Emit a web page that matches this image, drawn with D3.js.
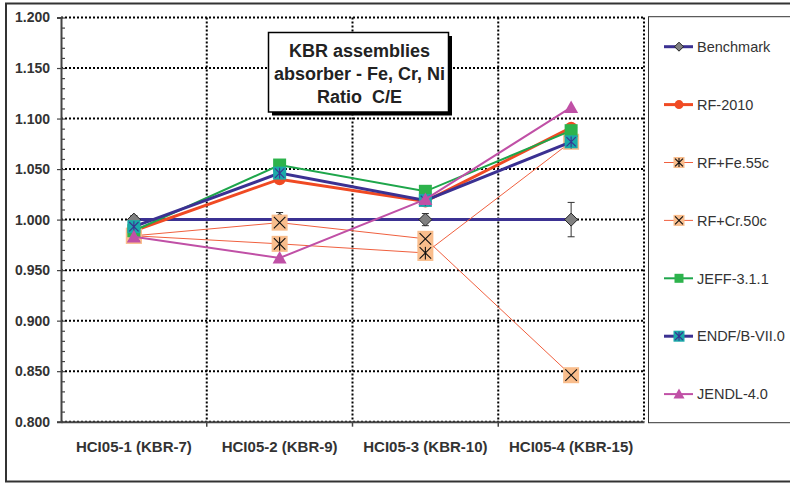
<!DOCTYPE html>
<html>
<head>
<meta charset="utf-8">
<script src="https://cdn.jsdelivr.net/npm/d3@7/dist/d3.min.js"></script>
<style>
  html, body { margin: 0; padding: 0; background: #fff; }
  svg { display: block; font-family: "Liberation Sans", Arial, sans-serif; }
  .title-line { white-space: pre; }
</style>
</head>
<body>
<svg id="chart" width="790" height="484"></svg>
<script>
// Cases and C/E ratios per library
const categories = ["HCI05-1 (KBR-7)", "HCI05-2 (KBR-9)", "HCI05-3 (KBR-10)", "HCI05-4 (KBR-15)"];
const benchmark    = [1.000, 1.000, 1.000, 1.000];
const benchmarkErr = [0.004, 0.007, 0.006, 0.017];
const rf2010   = [0.989, 1.040, 1.018, 1.091];
const rfFe55c  = [0.984, 0.976, 0.967, 1.077];
const rfCr50c  = [0.984, 0.997, 0.981, 0.846];
const jeff311  = [0.989, 1.054, 1.028, 1.088];
const endf70   = [0.993, 1.046, 1.019, 1.077];
const jendl40  = [0.983, 0.962, 1.020, 1.111];
const yTicks = [0.80, 0.85, 0.90, 0.95, 1.00, 1.05, 1.10, 1.15, 1.20];
const titleLines = ["KBR assemblies", "absorber - Fe, Cr, Ni", "Ratio  C/E"];

const series = [
  { name: "Benchmark",    values: benchmark, line: "#3b3192", width: 3,   marker: "diamond",  fill: "#808080", stroke: "#222", size: 13, lsize: 9 },
  { name: "RF-2010",      values: rf2010,    line: "#f04a23", width: 3,   marker: "circle",   fill: "#f04a23", stroke: "#f04a23", size: 12, lsize: 9 },
  { name: "RF+Fe.55c",    values: rfFe55c,   line: "#f0603f", width: 1,   marker: "asterisk", fill: "#f9bd8c", stroke: "#111", size: 16, lsize: 11 },
  { name: "RF+Cr.50c",    values: rfCr50c,   line: "#f0603f", width: 1,   marker: "cross",    fill: "#f9bd8c", stroke: "#111", size: 16, lsize: 11 },
  { name: "JEFF-3.1.1",   values: jeff311,   line: "#1ea64b", width: 2,   marker: "square",   fill: "#2db34c", stroke: "#1ea64b", size: 13, lsize: 9 },
  { name: "ENDF/B-VII.0", values: endf70,    line: "#3b3192", width: 3,   marker: "asterisk", fill: "#1aa9a9", stroke: "#3b3192", size: 13, lsize: 11 },
  { name: "JENDL-4.0",    values: jendl40,   line: "#c050a6", width: 2,   marker: "triangle", fill: "#c050a6", stroke: "#c050a6", size: 14, lsize: 11 }
];

const svg = d3.select("#chart");
const plot = { left: 61, right: 644, top: 17.5, bottom: 421.7 };

const x = d3.scaleBand().domain(categories).range([plot.left, plot.right]).padding(0);
const y = d3.scaleLinear().domain([0.8, 1.2]).range([plot.bottom, plot.top]);
const cx = c => x(c) + x.bandwidth() / 2;

// outer frame
svg.append("rect").attr("x", 6).attr("y", 3.5).attr("width", 790).attr("height", 478)
  .attr("fill", "#fff").attr("stroke", "#333").attr("stroke-width", 2);

// horizontal dotted grid
svg.append("g").selectAll("line").data(yTicks).join("line")
  .attr("x1", plot.left).attr("x2", plot.right)
  .attr("y1", d => y(d)).attr("y2", d => y(d))
  .attr("stroke", "#000").attr("stroke-width", 2).attr("stroke-dasharray", "2,2");

// vertical dotted grid at category boundaries and right edge
svg.append("g").selectAll("line").data(categories).join("line")
  .attr("x1", d => x(d) + x.bandwidth()).attr("x2", d => x(d) + x.bandwidth())
  .attr("y1", plot.top).attr("y2", plot.bottom)
  .attr("stroke", "#000").attr("stroke-width", 2).attr("stroke-dasharray", "2,2");

// y axis: major labels outside, minor ticks inside
const yAxis = svg.append("g").attr("transform", `translate(${plot.left},0)`)
  .call(d3.axisLeft(y).tickValues(yTicks).tickFormat(d3.format(".3f")).tickSize(4).tickPadding(7));
const minor = d3.range(80, 121).map(v => v / 100);
svg.append("g").attr("transform", `translate(${plot.left},0)`)
  .call(d3.axisRight(y).tickValues(minor).tickFormat("").tickSize(4))
  .call(g => g.select(".domain").remove());
yAxis.select(".domain").attr("stroke", "#444").attr("stroke-width", 2);
svg.selectAll(".tick line").attr("stroke", "#444").attr("stroke-width", 1.2);
yAxis.selectAll("text").attr("font-size", 14).attr("font-weight", "bold").attr("fill", "#333")
  .attr("font-family", "Liberation Sans, Arial, sans-serif");

// x axis
const xAxis = svg.append("g").attr("transform", `translate(0,${plot.bottom})`)
  .call(d3.axisBottom(x).tickSize(0).tickPadding(20));
xAxis.select(".domain").attr("stroke", "#444").attr("stroke-width", 2);
xAxis.selectAll("text").attr("font-size", 15).attr("font-weight", "bold").attr("fill", "#333")
  .attr("font-family", "Liberation Sans, Arial, sans-serif");
svg.append("g").selectAll("line").data(categories.slice(0, -1)).join("line")
  .attr("x1", d => x(d) + x.bandwidth()).attr("x2", d => x(d) + x.bandwidth())
  .attr("y1", plot.bottom).attr("y2", plot.bottom + 5)
  .attr("stroke", "#444").attr("stroke-width", 1.5);

// marker shapes
function drawMarker(g, s, px, py, size) {
  const h = size / 2;
  if (s.marker === "diamond") {
    g.append("path").attr("d", `M${px},${py - h}L${px + h},${py}L${px},${py + h}L${px - h},${py}Z`)
      .attr("fill", s.fill).attr("stroke", s.stroke).attr("stroke-width", 1);
  } else if (s.marker === "circle") {
    g.append("circle").attr("cx", px).attr("cy", py).attr("r", h).attr("fill", s.fill);
  } else if (s.marker === "square") {
    g.append("rect").attr("x", px - h).attr("y", py - h).attr("width", size).attr("height", size)
      .attr("fill", s.fill);
  } else if (s.marker === "triangle") {
    const w = size / 2, hh = size * 0.5;
    g.append("path").attr("d", `M${px},${py - hh}L${px + w},${py + hh * 0.8}L${px - w},${py + hh * 0.8}Z`)
      .attr("fill", s.fill);
  } else {
    g.append("rect").attr("x", px - h).attr("y", py - h).attr("width", size).attr("height", size)
      .attr("fill", s.fill);
    const a = h * 0.72;
    let d = `M${px - a},${py - a}L${px + a},${py + a}M${px + a},${py - a}L${px - a},${py + a}`;
    if (s.marker === "asterisk") d += `M${px},${py - a * 1.15}L${px},${py + a * 1.15}`;
    g.append("path").attr("d", d).attr("stroke", s.stroke).attr("stroke-width", 1.1).attr("fill", "none");
  }
}

const lineGen = d3.line().x((d, i) => cx(categories[i])).y(d => y(d));

series.forEach((s, si) => {
  const g = svg.append("g");
  g.append("path").datum(s.values).attr("d", lineGen)
    .attr("fill", "none").attr("stroke", s.line).attr("stroke-width", s.width);
  if (si === 0) {
    s.values.forEach((v, i) => {
      const px = cx(categories[i]);
      const e = benchmarkErr[i];
      g.append("path")
        .attr("d", `M${px},${y(v + e)}V${y(v - e)}M${px - 3.5},${y(v + e)}H${px + 3.5}M${px - 3.5},${y(v - e)}H${px + 3.5}`)
        .attr("stroke", "#333").attr("stroke-width", 1).attr("fill", "none");
    });
  }
  s.values.forEach((v, i) => drawMarker(g, s, cx(categories[i]), y(v), s.size));
});

// title box with shadow
const tb = { x: 268.5, y: 32.5, w: 180, h: 79.5 };
svg.append("rect").attr("x", tb.x + 3.5).attr("y", tb.y + 3.5).attr("width", tb.w).attr("height", tb.h).attr("fill", "#000");
svg.append("rect").attr("x", tb.x).attr("y", tb.y).attr("width", tb.w).attr("height", tb.h)
  .attr("fill", "#fff").attr("stroke", "#000").attr("stroke-width", 1.5);
svg.append("g").selectAll("text").data(titleLines).join("text")
  .attr("class", "title-line")
  .attr("x", tb.x + tb.w / 2 + 1).attr("y", (d, i) => 56.7 + i * 23.3)
  .attr("text-anchor", "middle").attr("font-size", 18).attr("font-weight", "bold").attr("fill", "#222")
  .text(d => d);

// legend
svg.append("rect").attr("x", 648.5).attr("y", 16.7).attr("width", 160).attr("height", 406)
  .attr("fill", "#fff").attr("stroke", "#333").attr("stroke-width", 1);
const lg = svg.append("g");
series.forEach((s, i) => {
  const ly = 46.7 + i * 57.9;
  lg.append("line").attr("x1", 664).attr("x2", 693).attr("y1", ly).attr("y2", ly)
    .attr("stroke", s.line).attr("stroke-width", s.width);
  drawMarker(lg, s, 679, ly, s.lsize);
  lg.append("text").attr("x", 697).attr("y", ly).attr("dy", "0.36em")
    .attr("font-size", 14.5).attr("fill", "#333").text(s.name);
});
</script>
</body>
</html>
